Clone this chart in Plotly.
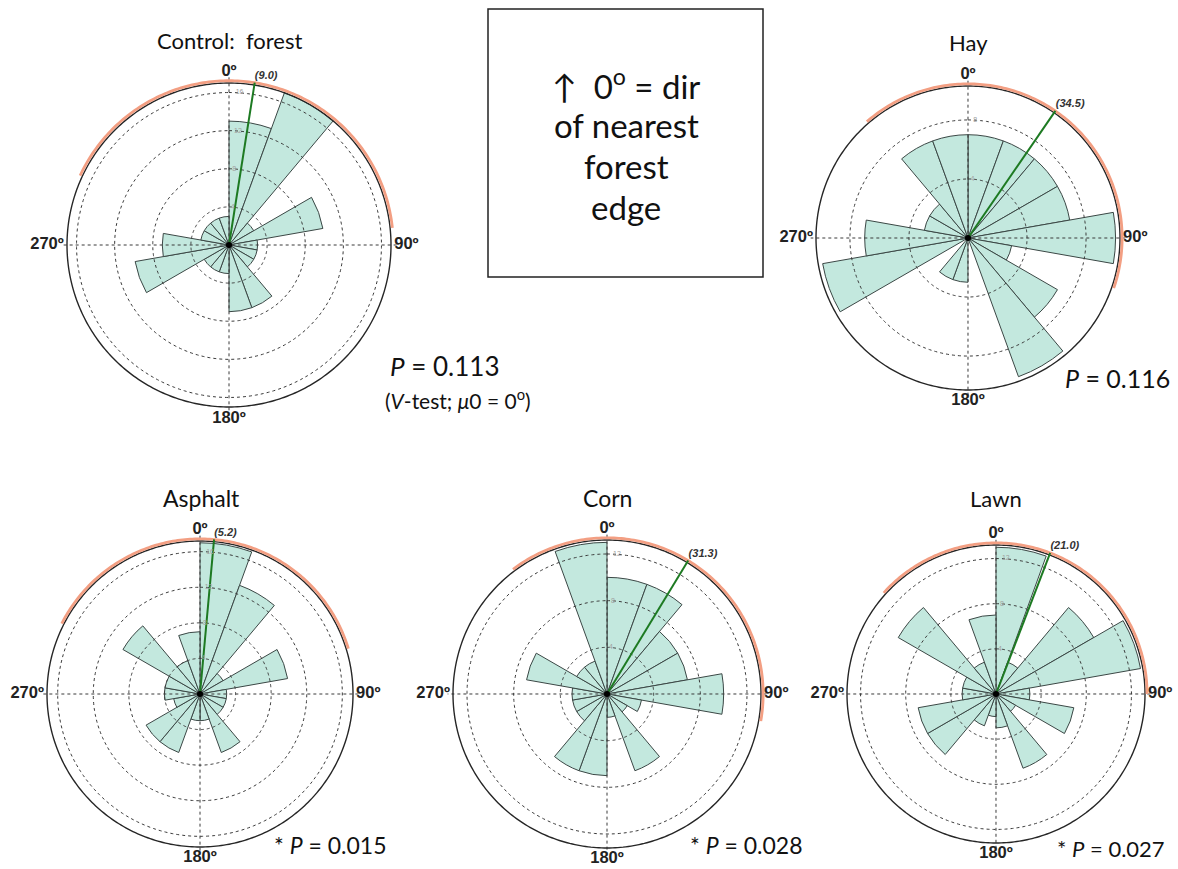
import numpy as np
import plotly.graph_objects as go

W, H = 1178, 869

# 18 direction classes of 20 degrees, clockwise from the nearest forest edge (0 deg)
bin_theta = [10, 30, 50, 70, 90, 110, 130, 150, 170, 190, 210, 230, 250, 270, 290, 310, 330, 350]
bin_width = 20

# counts per direction class
control_counts = [13, 17, 3, 10, 3, 3, 3, 7, 7, 3, 3, 3, 10, 7, 3, 3, 3, 3]
hay_counts = [7, 7, 7, 7, 10, 3, 7, 10, 0, 3, 3, 0, 10, 7, 3, 3, 7, 7]
asphalt_counts = [17, 13, 3, 10, 3, 3, 3, 7, 3, 3, 7, 7, 3, 4, 4, 10, 4, 7]
corn_counts = [10, 10, 7, 7, 10, 3, 2, 7, 2, 7, 7, 3, 3, 3, 7, 3, 3, 13]
lawn_counts = [13, 3, 10, 13, 3, 7, 2, 7, 3, 2, 3, 7, 7, 3, 3, 10, 3, 7]

# radial rings and outer circle value
control_rings = [4, 8, 12, 16]
hay_rings = [4, 8]
asphalt_rings = [4, 8, 12, 16]
corn_rings = [4, 8, 12]
lawn_rings = [4, 8, 12]
outer_value = [17, 10.3, 17.2, 13.2, 13.2]

# mean direction and its confidence arc (degrees)
mean_dir = [9.0, 34.5, 5.2, 31.3, 21.0]
ci_low = [-65, -41, -63, -37, -48]
ci_high = [84, 109, 73, 100, 90]

titles = ["Control:  forest", "Hay", "Asphalt", "Corn", "Lawn"]
p_values = ["0.113", "0.116", "0.015", "0.028", "0.027"]
significant = [False, False, True, True, True]

compass_theta = [0, 90, 180, 270]
compass_text = ["0º", "90º", "180º", "270º"]

counts_all = [control_counts, hay_counts, asphalt_counts, corn_counts, lawn_counts]
rings_all = [control_rings, hay_rings, asphalt_rings, corn_rings, lawn_rings]

# panel geometry in pixels: centre x, centre y, radius of the outer circle
geom = [(229, 245, 162), (968, 238, 152), (200, 694, 153), (607, 694, 154), (996, 694, 149)]
title_pos = [(229, 40), (968, 42), (201, 498), (607, 498), (996, 498)]
title_size = [22, 22, 23, 23, 22]
p_pos = [(388, 366), (1063, 378), (272, 845), (688, 845), (1055, 848)]
p_size = [26, 25, 23, 23, 22]

PAD = 1.1  # radial room left outside the outer circle for arcs and labels

BAR_FILL = "#c3e8de"
BAR_LINE = "#3b4745"
GRID = "#3a3a3a"
ORANGE = "#f39f83"
GREEN = "#1d7a22"
TEXT_FONT = "Lato, 'Open Sans', sans-serif"
AXIS_FONT = "'Liberation Sans', Arial, sans-serif"


def px(x):
    return x / W


def py(y):
    return 1 - y / H


def add(tr, sub):
    tr.update(subplot=sub, showlegend=False, hoverinfo="skip", cliponaxis=False)
    fig.add_trace(tr)


fig = go.Figure()
layout_polars = {}
annotations = []
circ = np.linspace(0, 360, 361)

for i in range(5):
    sub = "polar" if i == 0 else f"polar{i + 1}"
    rmax = outer_value[i]
    counts = counts_all[i]
    rings = rings_all[i]

    fig.add_trace(go.Barpolar(
        r=counts, theta=bin_theta, width=[bin_width] * len(bin_theta),
        marker=dict(color=BAR_FILL, line=dict(color=BAR_LINE, width=1)),
        subplot=sub, showlegend=False, hoverinfo="skip",
    ))

    # dotted rings drawn over the bars
    for rv in rings:
        add(go.Scatterpolar(
            r=[rv] * len(circ), theta=circ, mode="lines",
            line=dict(color=GRID, width=1, dash="dot"),
        ), sub)

    # dotted cross through the centre
    rx = rmax * 1.035
    add(go.Scatterpolar(
        r=[rx, rx, None, rx, rx], theta=[0, 180, None, 90, 270], mode="lines",
        line=dict(color=GRID, width=1, dash="dot"),
    ), sub)

    # outer circle
    add(go.Scatterpolar(
        r=[rmax] * len(circ), theta=circ, mode="lines",
        line=dict(color="#262626", width=1.4),
    ), sub)

    # confidence arc around the mean direction
    arc = np.linspace(ci_low[i], ci_high[i], 150)
    add(go.Scatterpolar(
        r=[rmax * 1.014] * len(arc), theta=arc, mode="lines",
        line=dict(color=ORANGE, width=2.8),
    ), sub)

    # mean direction
    add(go.Scatterpolar(
        r=[0, rmax * 1.015], theta=[mean_dir[i], mean_dir[i]], mode="lines",
        line=dict(color=GREEN, width=2),
    ), sub)
    add(go.Scatterpolar(
        r=[rmax * 1.02], theta=[mean_dir[i]], mode="text",
        text=[f"<b><i>({mean_dir[i]:.1f})</i></b>"], textposition="top right",
        textfont=dict(family=AXIS_FONT, size=11, color="#333"),
    ), sub)

    # small ring labels beside the 0 deg line
    add(go.Scatterpolar(
        r=rings, theta=[2.5] * len(rings), mode="text",
        text=[str(v) for v in rings], textposition="middle right",
        textfont=dict(family=AXIS_FONT, size=7, color="#a0a0a0"),
    ), sub)

    # compass labels
    add(go.Scatterpolar(
        r=[rmax * 1.02] * 4, theta=compass_theta, mode="text",
        text=[f"<b>{t}</b>" for t in compass_text],
        textposition=["top center", "middle right", "bottom center", "middle left"],
        textfont=dict(family=AXIS_FONT, size=16.5, color="#222"),
    ), sub)

    # centre point
    add(go.Scatterpolar(
        r=[0], theta=[0], mode="markers", marker=dict(color="black", size=6),
    ), sub)

    cx, cy, R = geom[i]
    Rd = R * PAD
    layout_polars[sub] = dict(
        domain=dict(x=[px(cx - Rd), px(cx + Rd)], y=[py(cy + Rd), py(cy - Rd)]),
        bgcolor="rgba(0,0,0,0)",
        angularaxis=dict(
            rotation=90, direction="clockwise",
            showticklabels=False, ticks="", showgrid=False, showline=False,
        ),
        radialaxis=dict(
            range=[0, rmax * PAD], showticklabels=False,
            showgrid=False, showline=False, ticks="",
        ),
    )

    tx, ty = title_pos[i]
    annotations.append(dict(
        x=px(tx), y=py(ty), xref="paper", yref="paper", text=titles[i],
        showarrow=False, xanchor="center", yanchor="middle",
        font=dict(family=TEXT_FONT, size=title_size[i], color="#111"),
    ))
    star = "* " if significant[i] else ""
    ptx, pty = p_pos[i]
    annotations.append(dict(
        x=px(ptx), y=py(pty), xref="paper", yref="paper",
        text=f"{star}<i>P</i> = {p_values[i]}",
        showarrow=False, xanchor="left", yanchor="middle",
        font=dict(family=TEXT_FONT, size=p_size[i], color="#111"),
    ))

annotations.append(dict(
    x=px(383), y=py(399), xref="paper", yref="paper",
    text="(<i>V</i>-test; <i>μ</i>0 = 0<sup>o</sup>)",
    showarrow=False, xanchor="left", yanchor="middle",
    font=dict(family=TEXT_FONT, size=21, color="#111"),
))

# explanation box
box_lines = ["↑  0<sup>o</sup> = dir", "of nearest", "forest", "edge"]
box_line_y = [84, 125, 166, 207]
for txt, yy in zip(box_lines, box_line_y):
    annotations.append(dict(
        x=px(626), y=py(yy), xref="paper", yref="paper", text=txt,
        showarrow=False, xanchor="center", yanchor="middle",
        font=dict(family=TEXT_FONT, size=33, color="#111"),
    ))

fig.update_layout(
    width=W, height=H, margin=dict(l=0, r=0, t=0, b=0),
    paper_bgcolor="white", plot_bgcolor="white",
    annotations=annotations,
    shapes=[dict(type="rect", xref="paper", yref="paper",
                 x0=px(488), x1=px(763), y0=py(277), y1=py(9),
                 line=dict(color="#222", width=1.5))],
    **layout_polars,
)

fig.write_html("out.html")
